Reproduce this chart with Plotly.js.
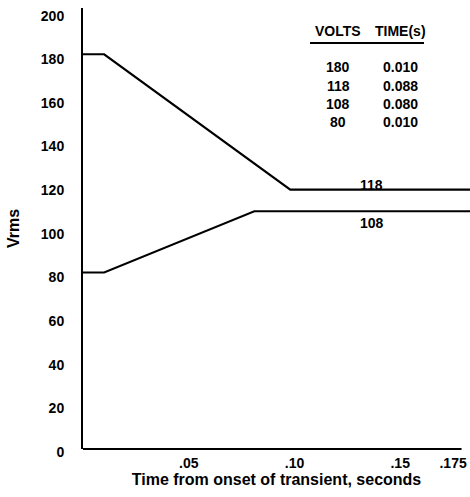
<!DOCTYPE html>
<html><head><meta charset="utf-8">
<script src="https://cdn.plot.ly/plotly-3.0.1.min.js"></script>
<style>html,body{margin:0;padding:0;background:#fff}#chart{width:470px;height:497px}</style>
</head><body><div id="chart"></div>
<script>
// Upper transient (180 V -> 118 V)
const upperTime = [0, 0.010, 0.098, 0.183];
const upperVolts = [180, 180, 118, 118];
// Lower transient (80 V -> 108 V)
const lowerTime = [0, 0.010, 0.081, 0.183];
const lowerVolts = [80, 80, 108, 108];
// Table
const tableVolts = ["180", "118", "108", "80"];
const tableTime = ["0.010", "0.088", "0.080", "0.010"];
// Axis ticks
const xTickVals = [0.05, 0.10, 0.15, 0.175];
const xTickText = [".05", ".10", ".15", ".175"];
const yTickVals = [0, 20, 40, 60, 80, 100, 120, 140, 160, 180, 200];

const W = 470, H = 497, L = 83, R = 0, T = 8, B = 48;
const pw = W - L - R, ph = H - T - B;
const px = x => (x - L) / pw;
const py = y => (H - B - y) / ph;

const font = "Liberation Sans, Arial, sans-serif";
const bold = {family: font, size: 14, color: "#000", weight: "bold"};
const tick = {family: font, size: 14, color: "#000", weight: "bold"};

const traces = [
  {x: upperTime, y: upperVolts, mode: "lines", line: {color: "#000", width: 2.2}, hoverinfo: "skip"},
  {x: lowerTime, y: lowerVolts, mode: "lines", line: {color: "#000", width: 2}, hoverinfo: "skip"}
];

const ann = [];
ann.push({xref: "paper", yref: "paper", x: px(338), y: py(31), text: "VOLTS", showarrow: false, font: bold, xanchor: "center", yanchor: "middle"});
ann.push({xref: "paper", yref: "paper", x: px(400), y: py(31), text: "TIME(s)", showarrow: false, font: bold, xanchor: "center", yanchor: "middle"});
const rowY = [67, 85.5, 103.5, 121.5];
tableVolts.forEach((v, i) => {
  ann.push({xref: "paper", yref: "paper", x: px(338), y: py(rowY[i]), text: v, showarrow: false, font: bold, xanchor: "center", yanchor: "middle"});
  ann.push({xref: "paper", yref: "paper", x: px(400), y: py(rowY[i]), text: tableTime[i], showarrow: false, font: bold, xanchor: "center", yanchor: "middle"});
});
ann.push({xref: "paper", yref: "paper", x: px(371), y: py(184.5), text: String(upperVolts[3]), showarrow: false, font: bold, xanchor: "center", yanchor: "middle"});
ann.push({xref: "paper", yref: "paper", x: px(372), y: py(223), text: String(lowerVolts[3]), showarrow: false, font: bold, xanchor: "center", yanchor: "middle"});

const layout = {
  width: W, height: H,
  margin: {l: L, r: R, t: T, b: B, pad: 0},
  paper_bgcolor: "#fff", plot_bgcolor: "#fff",
  showlegend: false,
  font: {family: font, color: "#000"},
  xaxis: {
    range: [0, 0.183], showgrid: false, zeroline: false, showline: false,
    tickvals: xTickVals, ticktext: xTickText, ticks: "", ticklabelstandoff: 4,
    tickfont: tick, fixedrange: true,
    title: {text: "Time from onset of transient, seconds", font: {family: font, size: 16, color: "#000", weight: "bold"}, standoff: 0}
  },
  yaxis: {
    range: [-0.9, 201.2], showgrid: false, zeroline: false, showline: true, linecolor: "#000", linewidth: 2,
    tickvals: yTickVals, ticks: "", ticklabelstandoff: 14, ticklabelshift: 5,
    tickfont: tick, fixedrange: true,
    title: {text: "Vrms", font: {family: font, size: 16, color: "#000", weight: "bold"}, standoff: 17}
  },
  shapes: [
    {type: "line", xref: "x", yref: "paper", x0: 0, x1: 0.179, y0: 0, y1: 0, line: {color: "#000", width: 2}},
    {type: "line", xref: "paper", yref: "paper", x0: px(310), x1: px(424), y0: py(43), y1: py(43), line: {color: "#000", width: 2}}
  ],
  annotations: ann
};
Plotly.newPlot("chart", traces, layout, {staticPlot: true, displayModeBar: false});
</script></body></html>
